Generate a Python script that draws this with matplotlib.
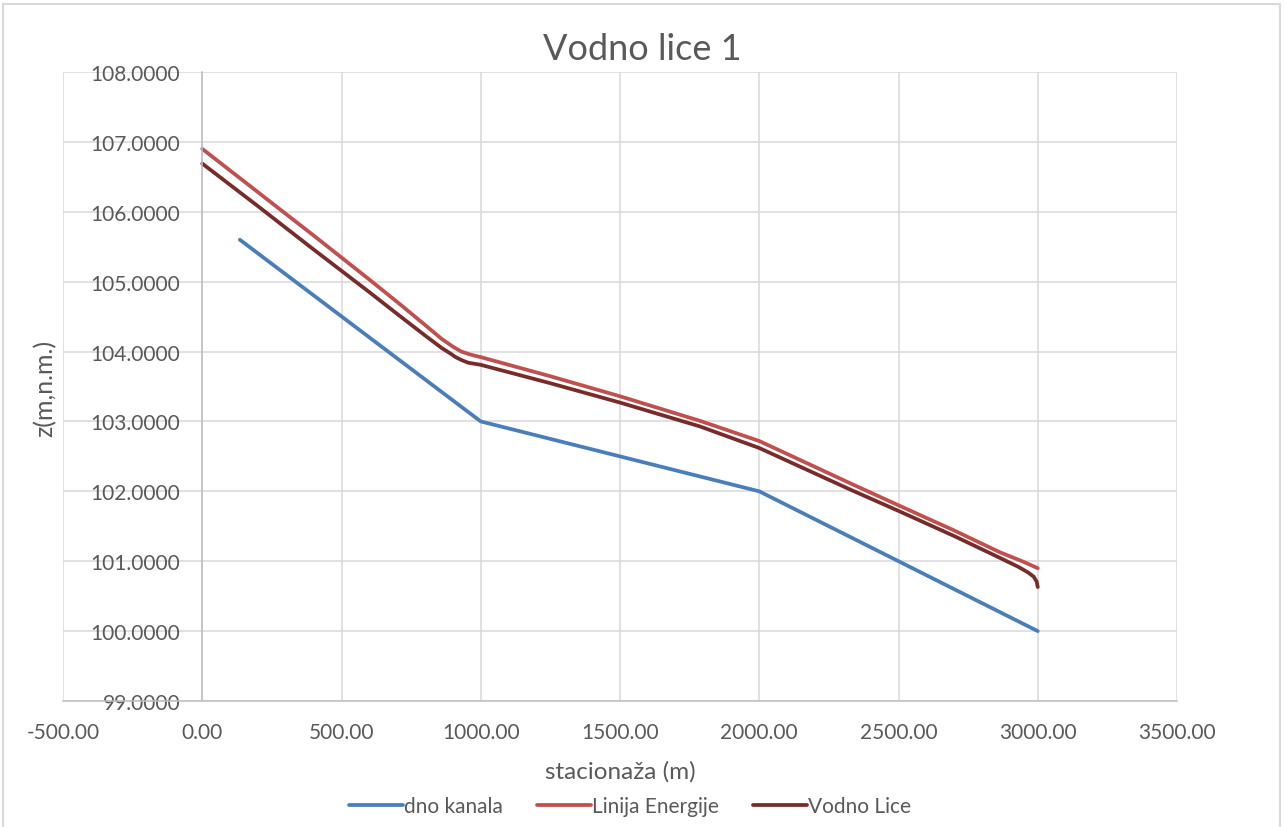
import numpy as np
import matplotlib.pyplot as plt
from matplotlib.patches import Rectangle
from matplotlib.ticker import FormatStrFormatter, MultipleLocator

plt.rcParams['font.family'] = ['Lato', 'DejaVu Sans']

# stacionaza (m) and elevations z (m n.m.)
x_dno = [135, 1000, 2000, 3000]
z_dno = [105.60, 103.00, 102.00, 100.00]

x_energija = [0, 200, 400, 600, 709, 800, 860, 900, 930, 960, 1000, 1247, 1500,
              1786, 2000, 2324, 2500, 2700, 2863, 2950, 3000]
z_energija = [106.90, 106.28, 105.66, 105.03, 104.68, 104.38, 104.18, 104.07,
              104.00, 103.96, 103.92, 103.65, 103.36, 103.01, 102.72, 102.12,
              101.80, 101.44, 101.13, 100.99, 100.90]

x_lice = [0, 200, 400, 600, 709, 800, 860, 888, 910, 930, 955, 1000, 1247, 1500,
          1786, 2000, 2324, 2500, 2700, 2863, 2930, 2965, 2985, 2996, 3000]
z_lice = [106.69, 106.08, 105.46, 104.85, 104.51, 104.23, 104.05, 103.98,
          103.92, 103.88, 103.84, 103.81, 103.55, 103.27, 102.93, 102.62,
          102.03, 101.72, 101.36, 101.05, 100.92, 100.84, 100.78, 100.71, 100.63]

txt = '#595959'
grid = '#D9D9D9'

fig = plt.figure(figsize=(12.85, 8.28), dpi=100)
ax = fig.add_axes([63/1285, 126/828, 1114/1285, 629/828])

style = dict(lw=2.7, solid_capstyle='round', solid_joinstyle='round')
ax.plot(x_dno, z_dno, color='#4A7EBB', label='dno kanala', **style)
ax.plot(x_energija, z_energija, color='#C0504D', label='Linija Energije', **style)
ax.plot(x_lice, z_lice, color='#772C2A', label='Vodno Lice', **style)

ax.set_xlim(-500, 3500)
ax.set_ylim(99, 108)
ax.xaxis.set_major_locator(MultipleLocator(500))
ax.yaxis.set_major_locator(MultipleLocator(1))
ax.xaxis.set_major_formatter(FormatStrFormatter('%.2f'))
ax.yaxis.set_major_formatter(FormatStrFormatter('%.4f'))
ax.grid(True, color=grid, lw=1.1)
ax.set_axisbelow(True)

for s in ['top', 'right']:
    ax.spines[s].set_visible(False)
ax.spines['left'].set_position(('data', 0))
ax.spines['left'].set_color('#BFBFBF')
ax.spines['bottom'].set_color('#BFBFBF')
ax.spines['left'].set_linewidth(1.1)
ax.spines['bottom'].set_linewidth(1.1)
ax.tick_params(axis='both', length=0, labelsize=15, labelcolor=txt)
ax.tick_params(axis='y', pad=16)
ax.tick_params(axis='x', pad=15)

fig.text(0.5, 1 - 50/828, 'Vodno lice 1', ha='center', va='center', fontsize=26, color=txt)
fig.text(620/1285, 1 - 772/828, 'stacionaža (m)', ha='center', va='center', fontsize=17.5, color=txt)
fig.text(45/1285, 1 - 388/828, 'z(m,n.m.)', ha='center', va='center', rotation=90, fontsize=18, color=txt)

fig.legend(loc='center', bbox_to_anchor=(630/1285, 1 - 807/828), ncol=3, frameon=False,
           fontsize=15, labelcolor=txt, handlelength=2.6, columnspacing=1.6, handletextpad=0.08)

fig.add_artist(Rectangle((3/1285, -0.05), 1277/1285, 1.05 - 5/828, transform=fig.transFigure,
                         fill=False, edgecolor=grid, lw=1.5))

fig.savefig('out.png', dpi=100)
